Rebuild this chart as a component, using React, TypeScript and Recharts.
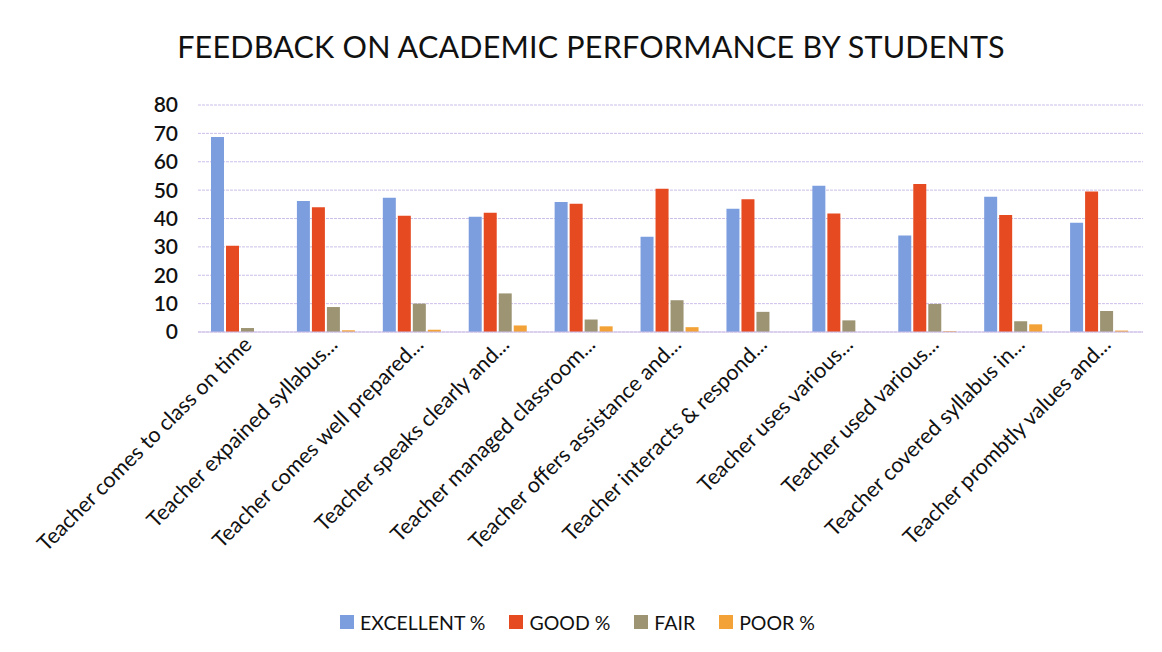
import React from 'react';
import { BarChart, Bar, XAxis, YAxis, CartesianGrid, Legend } from 'recharts';

// survey questions (already truncated as on the printed chart)
const questions = [
  'Teacher comes to class on time',
  'Teacher expained syllabus...',
  'Teacher comes well prepared...',
  'Teacher speaks clearly and...',
  'Teacher managed classroom...',
  'Teacher offers assistance and...',
  'Teacher interacts & respond...',
  'Teacher uses various...',
  'Teacher used various...',
  'Teacher covered syllabus in...',
  'Teacher prombtly values and...',
];

const excellent = [68.7, 46.2, 47.3, 40.6, 45.8, 33.6, 43.4, 51.5, 34, 47.7, 38.5];
const good = [30.4, 44, 41, 42, 45.2, 50.5, 46.8, 41.8, 52.2, 41.2, 49.5];
const fair = [1.4, 8.8, 10, 13.6, 4.4, 11.2, 7.1, 4.1, 9.9, 3.8, 7.4];
const poor = [0, 0.6, 0.8, 2.3, 2, 1.7, 0, 0, 0.3, 2.7, 0.5];

const yTicks = [0, 10, 20, 30, 40, 50, 60, 70, 80];

const series = [
  { key: 'excellent', name: 'EXCELLENT %', color: '#7d9ede' },
  { key: 'good', name: 'GOOD %', color: '#e64a20' },
  { key: 'fair', name: 'FAIR', color: '#9d9473' },
  { key: 'poor', name: 'POOR %', color: '#f2a236' },
];

const data = questions.map((q, i) => ({
  question: q,
  excellent: excellent[i],
  good: good[i],
  fair: fair[i],
  poor: poor[i],
}));

const FONT = "Lato, 'Open Sans', sans-serif";

const AngledTick = (props: any) => {
  const { x, y, payload } = props;
  const ax = x + 12;
  const ay = y + 6;
  return (
    <text
      x={ax}
      y={ay}
      transform={`rotate(-45, ${ax}, ${ay})`}
      textAnchor="end"
      fontSize={21.5}
      fontFamily={FONT}
      fill="#111"
    >
      {payload.value}
    </text>
  );
};

const LegendContent = () => (
  <div
    style={{
      display: 'flex',
      justifyContent: 'center',
      alignItems: 'center',
      height: 60,
      fontFamily: FONT,
      fontSize: 19.5,
      color: '#111',
      paddingLeft: 36,
    }}
  >
    {series.map((s) => (
      <div key={s.key} style={{ display: 'flex', alignItems: 'center', marginRight: 24 }}>
        <span style={{ width: 14, height: 14, background: s.color, marginRight: 6, display: 'inline-block' }} />
        <span>{s.name}</span>
      </div>
    ))}
  </div>
);

export default function App() {
  return (
    <div style={{ position: 'absolute', left: 0, top: 0, width: 1162, height: 652, background: '#fff' }}>
      <div
        style={{
          position: 'absolute',
          left: 0,
          top: 28,
          width: 1182,
          textAlign: 'center',
          fontFamily: FONT,
          fontSize: 30.5,
          color: '#111',
          letterSpacing: 0.2,
        }}
      >
        FEEDBACK ON ACADEMIC PERFORMANCE BY STUDENTS
      </div>
      <BarChart
        width={1162}
        height={652}
        data={data}
        margin={{ top: 105, right: 19, left: 0, bottom: 0 }}
        barCategoryGap={13}
        barGap={2}
      >
        <CartesianGrid vertical={false} stroke="#cdbfe8" strokeDasharray="3 1" />
        <XAxis
          dataKey="question"
          interval={0}
          height={260}
          tickLine={false}
          axisLine={{ stroke: '#cdbfe8' }}
          tick={<AngledTick />}
        />
        <YAxis
          width={198}
          domain={[0, 80]}
          ticks={yTicks}
          interval={0}
          axisLine={false}
          tickLine={false}
          tickMargin={14}
          tick={{ fontSize: 21, fontFamily: FONT, fill: '#111', fontWeight: 600 }}
        />
        <Legend verticalAlign="bottom" height={60} content={<LegendContent />} />
        {series.map((s) => (
          <Bar key={s.key} dataKey={s.key} name={s.name} fill={s.color} isAnimationActive={false} />
        ))}
      </BarChart>
    </div>
  );
}
